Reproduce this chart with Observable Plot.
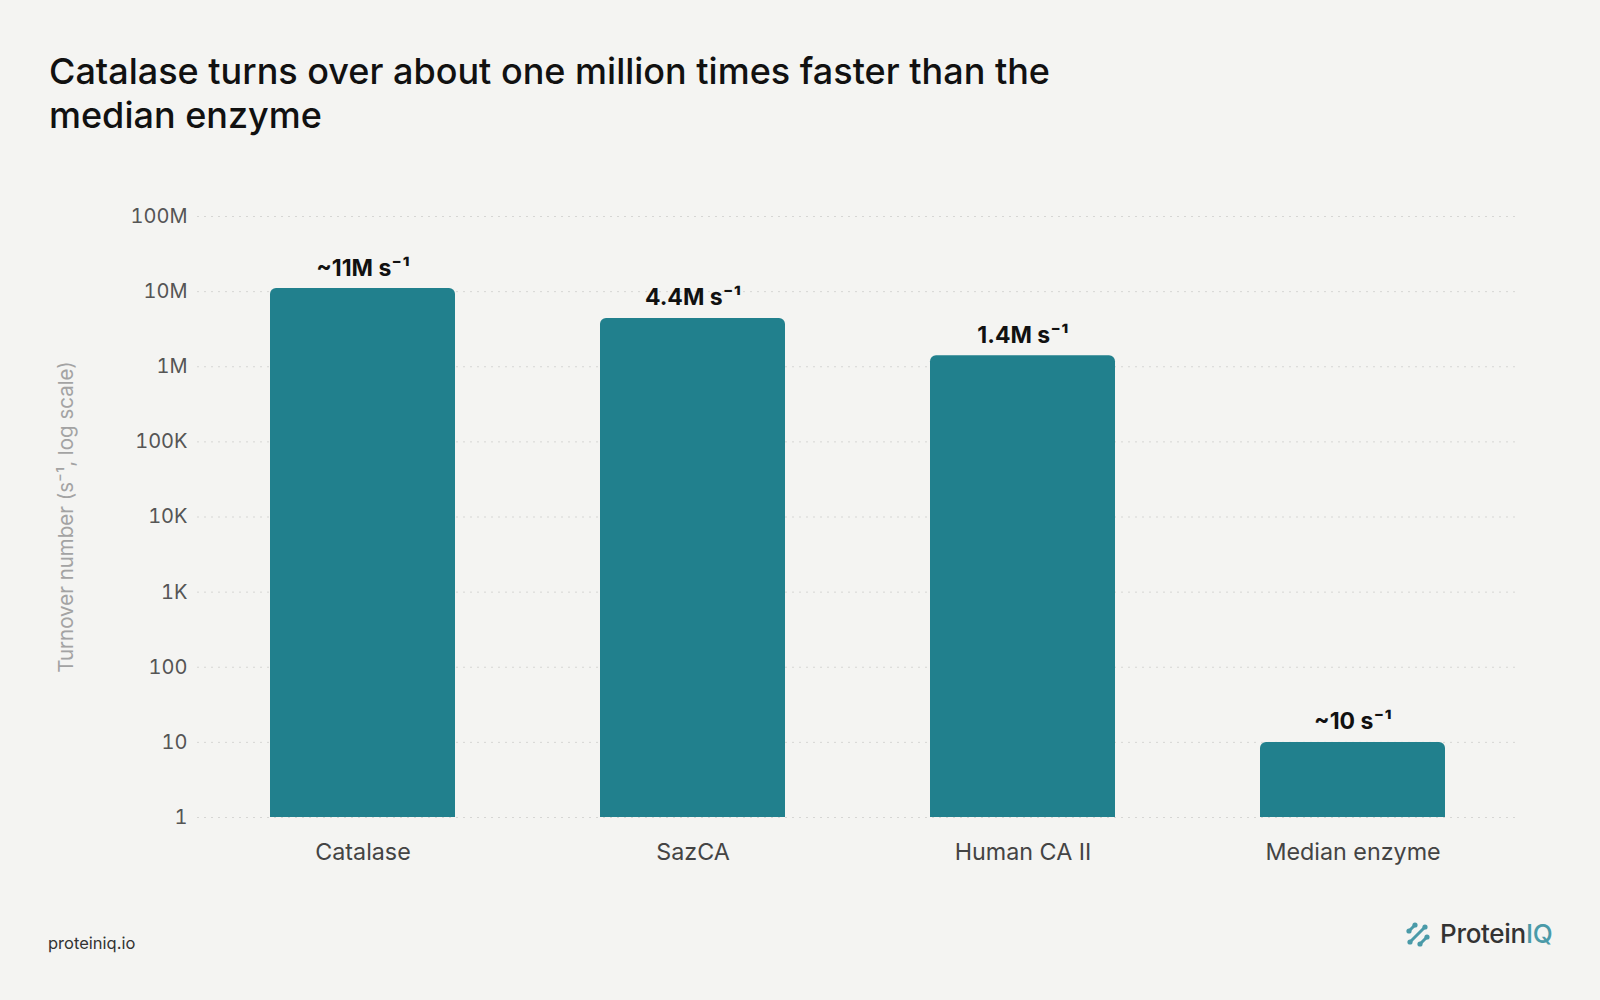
<!DOCTYPE html>
<html>
<head>
<meta charset="utf-8">
<script src="https://cdn.jsdelivr.net/npm/d3@7"></script>
<script src="https://cdn.jsdelivr.net/npm/@observablehq/plot@0.6"></script>
<style>
  html, body { margin: 0; padding: 0; background: #f4f4f2; }
  body { width: 1600px; height: 1000px; position: relative; overflow: hidden; font-family: Inter, "Noto Sans", sans-serif; }
  #title { position: absolute; left: 49px; top: 49px; font-size: 36px; font-weight: 500; line-height: 44px; color: #111; letter-spacing: 0px; }
  #chart { position: absolute; left: 0; top: 170px; }
  #footer { position: absolute; left: 48px; top: 933px; font-size: 16.5px; color: #333; }
  #logo { position: absolute; left: 1405px; top: 918px; display: flex; align-items: center; gap: 7px; }
  #logo span.t { font-size: 26px; font-weight: 500; color: #333; letter-spacing: -0.3px; }
  #logo span.iq { color: #4a9aa8; }
  g[aria-label="y-axis label"] text { fill: #a3a3a3; font-size: 20.5px; }
</style>
</head>
<body>
<div id="title">Catalase turns over about one million times faster than the<br>median enzyme</div>
<div id="chart"></div>
<div id="footer">proteiniq.io</div>
<div id="logo">
  <svg width="28" height="28" viewBox="0 0 28 28">
    <g stroke="#4a9aa8" stroke-width="3" stroke-linecap="round" fill="#4a9aa8">
      <line x1="4" y1="11" x2="10" y2="5"/>
      <circle cx="4" cy="11" r="2.6" stroke="none"/>
      <circle cx="10" cy="5" r="2.6" stroke="none"/>
      <line x1="5" y1="22" x2="20" y2="7"/>
      <circle cx="5" cy="22" r="2.6" stroke="none"/>
      <circle cx="20" cy="7" r="2.6" stroke="none"/>
      <line x1="15" y1="24" x2="22" y2="17"/>
      <circle cx="15" cy="24" r="2.6" stroke="none"/>
      <circle cx="22" cy="17" r="2.6" stroke="none"/>
    </g>
  </svg>
  <span class="t">Protein<span class="iq">IQ</span></span>
</div>
<script>
const names = ["Catalase", "SazCA", "Human CA II", "Median enzyme"];
const values = [11e6, 4.4e6, 1.4e6, 10];
const valueLabels = ["~11M s⁻¹", "4.4M s⁻¹", "1.4M s⁻¹", "~10 s⁻¹"];
const tickValues = [1, 10, 100, 1e3, 1e4, 1e5, 1e6, 1e7, 1e8];
const tickLabels = ["1", "10", "100", "1K", "10K", "100K", "1M", "10M", "100M"];
const yLabel = "Turnover number (s⁻¹, log scale)";

const data = names.map((name, i) => ({name, value: values[i], label: valueLabels[i]}));

const chart = Plot.plot({
  width: 1600,
  height: 720,
  marginTop: 46,
  marginBottom: 73,
  marginLeft: 197,
  marginRight: 82,
  style: {background: "transparent", fontFamily: "Inter, 'Noto Sans', sans-serif", fontSize: "20px"},
  x: {domain: names, paddingInner: 0.44, paddingOuter: 0.22, label: null},
  y: {type: "log", domain: [1, 1e8], label: yLabel},
  marks: [
    Plot.gridY(tickValues, {stroke: "#d6d6d4", strokeOpacity: 1, strokeWidth: 1, strokeDasharray: "2,5"}),
    Plot.barY(data, {x: "name", y1: 1, y2: "value", fill: "#21808d", ry1: 6}),
    Plot.text(data, {x: "name", y: "value", text: "label", lineAnchor: "bottom", dy: -13, fontSize: 23, fontWeight: 700, fill: "#111"}),
    Plot.axisY({ticks: tickValues, tickFormat: (d) => tickLabels[tickValues.indexOf(d)], tickSize: 0, tickPadding: 10, fontSize: 20, color: "#555", label: yLabel, labelAnchor: "center", labelArrow: "none", labelOffset: 139}),
    Plot.axisX({tickSize: 0, tickPadding: 26, fontSize: 23.3, color: "#444", label: null})
  ]
});
document.getElementById("chart").appendChild(chart);
</script>
</body>
</html>
